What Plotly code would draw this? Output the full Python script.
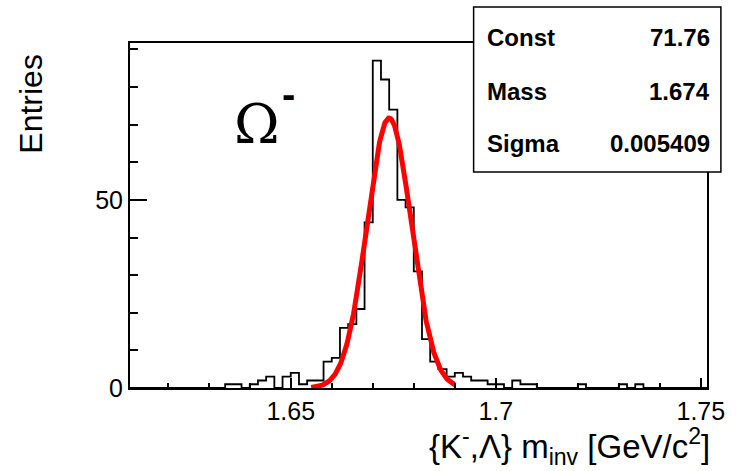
import numpy as np
import plotly.graph_objects as go

# ---- data ----
bin_start = 1.610
bin_width = 0.002
counts = [0, 0, 0, 0, 0, 0, 0, 0, 0, 0,
          0, 0, 1, 1, 0, 1, 2, 3, 0, 3,
          4, 1, 2, 2, 7, 8, 16, 17, 21, 44,
          87, 82, 74, 50, 48, 31, 13, 7, 5, 3,
          4, 3, 2, 2, 1, 1, 0, 2, 1, 1,
          0, 0, 0, 0, 0, 1, 0, 0, 0, 0,
          1, 0, 1, 0, 0, 0, 0, 0, 0, 0, 0]

fit_const = 71.76
fit_mass = 1.674
fit_sigma = 0.005409
fit_range = [1.655, 1.690]

x_range = [1.6108, 1.7515]
y_range = [0, 91.7]
x_tickvals = [1.65, 1.70, 1.75]
x_ticktext = ["1.65", "1.7", "1.75"]

stats_labels = ["Const", "Mass", "Sigma"]
stats_values = ["71.76", "1.674", "0.005409"]

# ---- figure ----
edges = bin_start + bin_width * np.arange(len(counts) + 1)
hist_y = list(counts) + [counts[-1]]

fx = np.linspace(fit_range[0], fit_range[1], 300)
fy = fit_const * np.exp(-0.5 * ((fx - fit_mass) / fit_sigma) ** 2)

fig = go.Figure()
fig.add_trace(go.Scatter(x=edges, y=hist_y, mode="lines", line_shape="hv",
                         line=dict(color="black", width=1.8), hoverinfo="skip"))
fig.add_trace(go.Scatter(x=fx, y=fy, mode="lines",
                         line=dict(color="#ff0000", width=5), hoverinfo="skip"))

W, H = 737, 471
L, R, T, B = 130, 26, 43, 83
pw, ph = W - L - R, H - T - B


def px(xp):
    return (xp - L) / pw


def py(yp):
    return (H - B - yp) / ph


tickfont = dict(family="Liberation Sans, Arial, sans-serif", size=25, color="black")

fig.update_layout(
    width=W, height=H,
    margin=dict(l=L, r=R, t=T, b=B),
    paper_bgcolor="white", plot_bgcolor="white",
    showlegend=False,
    xaxis=dict(range=x_range, showgrid=False, zeroline=False,
               showline=True, linecolor="black", linewidth=2, mirror=True,
               ticks="inside", ticklen=10, tickwidth=1.5, tickcolor="black",
               tickmode="array", tickvals=x_tickvals, ticktext=x_ticktext,
               tickfont=tickfont,
               minor=dict(tickmode="linear", tick0=1.61, dtick=0.01, ticks="inside",
                          ticklen=5, tickwidth=1.5, tickcolor="black", showgrid=False)),
    yaxis=dict(range=y_range, showgrid=False, zeroline=False,
               showline=True, linecolor="black", linewidth=2, mirror=True,
               ticks="inside", ticklen=17, tickwidth=1.5, tickcolor="black",
               tick0=0, dtick=50, tickfont=tickfont,
               minor=dict(tick0=0, dtick=10, ticks="inside", ticklen=8,
                          tickwidth=1.5, tickcolor="black", showgrid=False)),
)

# stats box
fig.add_shape(type="rect", xref="paper", yref="paper",
              x0=px(476), x1=px(725), y0=py(172), y1=py(7),
              line=dict(color="black", width=1.5), fillcolor="white", layer="above")

statfont = dict(family="Liberation Sans, Arial, sans-serif", size=24, color="black")
for lab, val, yc in zip(stats_labels, stats_values, [37, 91, 143]):
    fig.add_annotation(text="<b>%s</b>" % lab, xref="paper", yref="paper",
                       x=px(487), y=py(yc), xanchor="left", yanchor="middle",
                       showarrow=False, font=statfont)
    fig.add_annotation(text="<b>%s</b>" % val, xref="paper", yref="paper",
                       x=px(716), y=py(yc), xanchor="right", yanchor="middle",
                       showarrow=False, font=statfont)

# axis titles
titlefont = dict(family="Liberation Sans, Arial, sans-serif", size=33, color="black")
fig.add_annotation(text="{K<sup>-</sup>,Λ} m<sub>inv</sub> [GeV/c<sup>2</sup>]",
                   xref="paper", yref="paper", x=px(716), y=py(446),
                   xanchor="right", yanchor="middle", showarrow=False, font=titlefont)
fig.add_annotation(text="Entries", xref="paper", yref="paper",
                   x=px(30), y=py(104), xanchor="center", yanchor="middle",
                   textangle=-90, showarrow=False,
                   font=dict(family="Liberation Sans, Arial, sans-serif", size=32, color="black"))

# Omega label
fig.add_annotation(text="Ω", xref="paper", yref="paper", x=px(258), y=py(124),
                   xanchor="center", yanchor="middle", showarrow=False,
                   font=dict(family="DejaVu Serif, Liberation Serif, serif", size=55, color="black"))
fig.add_annotation(text="<b>-</b>", xref="paper", yref="paper", x=px(290), y=py(94),
                   xanchor="center", yanchor="middle", showarrow=False,
                   font=dict(family="Liberation Sans, Arial, sans-serif", size=40, color="black"))

fig.write_html("out.html")
